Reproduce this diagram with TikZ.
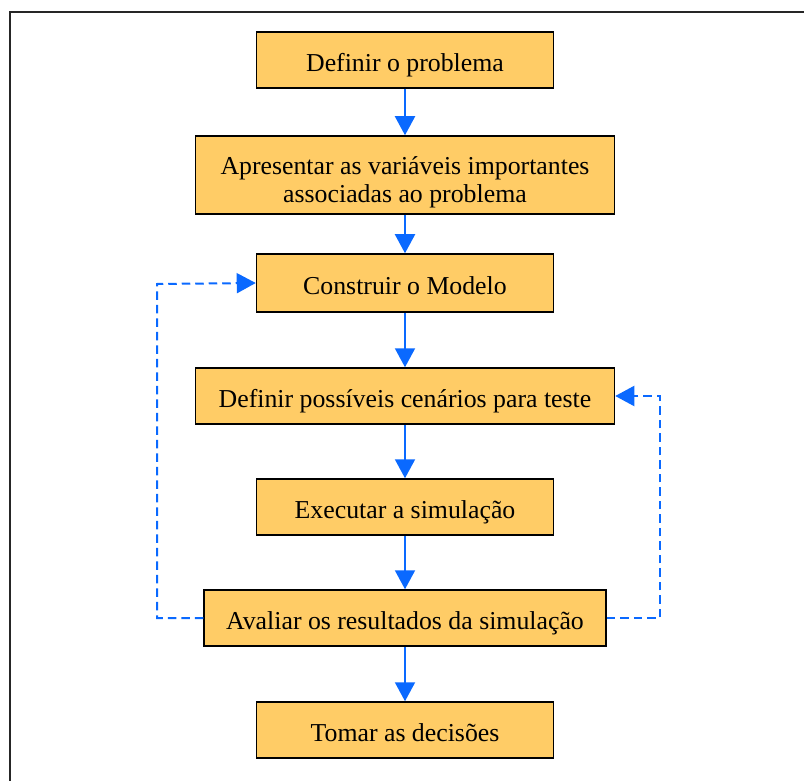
\documentclass[tikz,border=0pt]{standalone}
\usepackage{fontspec}
\setmainfont{Liberation Serif}
\usetikzlibrary{arrows.meta}
\definecolor{boxfill}{RGB}{255,204,102}
\definecolor{arrowblue}{RGB}{10,105,255}
\tikzset{
  stepbox/.style={draw=black, line width=1.5pt, fill=boxfill, inner sep=0pt,
    align=center, font=\fontsize{25.8}{27.5}\selectfont, text height=23.6pt, text depth=0pt},
  flow/.style={draw=arrowblue, line width=2pt, -{Triangle[length=19pt,width=20pt]}},
  loopback/.style={draw=arrowblue, line width=2pt, dash pattern=on 8.5pt off 5pt, -{Triangle[length=19pt,width=20pt]}}
}
\begin{document}
\begin{tikzpicture}[x=1pt,y=-1pt]
\useasboundingbox (0,0) rectangle (804,781);
\clip (0,0) rectangle (804,781);
\draw[line width=2pt, draw=black!85] (10,12) rectangle (830,800);
\node[stepbox, minimum width=297pt, minimum height=56pt] (b1) at (405,60) {Definir o problema};
\node[stepbox, minimum width=419pt, minimum height=78pt, text height=55pt, text depth=0pt] (b2) at (405,175) {Apresentar as variáveis importantes\\associadas ao problema};
\node[stepbox, minimum width=297pt, minimum height=58pt] (b3) at (405,283) {Construir o Modelo};
\node[stepbox, minimum width=419pt, minimum height=56pt] (b4) at (405,396) {Definir possíveis cenários para teste};
\node[stepbox, minimum width=297pt, minimum height=56pt] (b5) at (405,507) {Executar a simulação};
\node[stepbox, minimum width=402pt, minimum height=56pt] (b6) at (405,618) {Avaliar os resultados da simulação};
\node[stepbox, minimum width=297pt, minimum height=56pt] (b7) at (405,730) {Tomar as decisões};
\draw[flow] (b1) -- (b2);
\draw[flow] (b2) -- (b3);
\draw[flow] (b3) -- (b4);
\draw[flow] (b4) -- (b5);
\draw[flow] (b5) -- (b6);
\draw[flow] (b6) -- (b7);
\coordinate (l1) at (157,618);
\coordinate (l2) at (157,284);
\coordinate (r1) at (660,618);
\coordinate (r2) at (660,396);
\draw[loopback] (b6.west) -- (l1) -- (l2) -- (b3.west);
\draw[loopback] (b6.east) -- (r1) -- (r2) -- (b4.east);
\end{tikzpicture}
\end{document}
